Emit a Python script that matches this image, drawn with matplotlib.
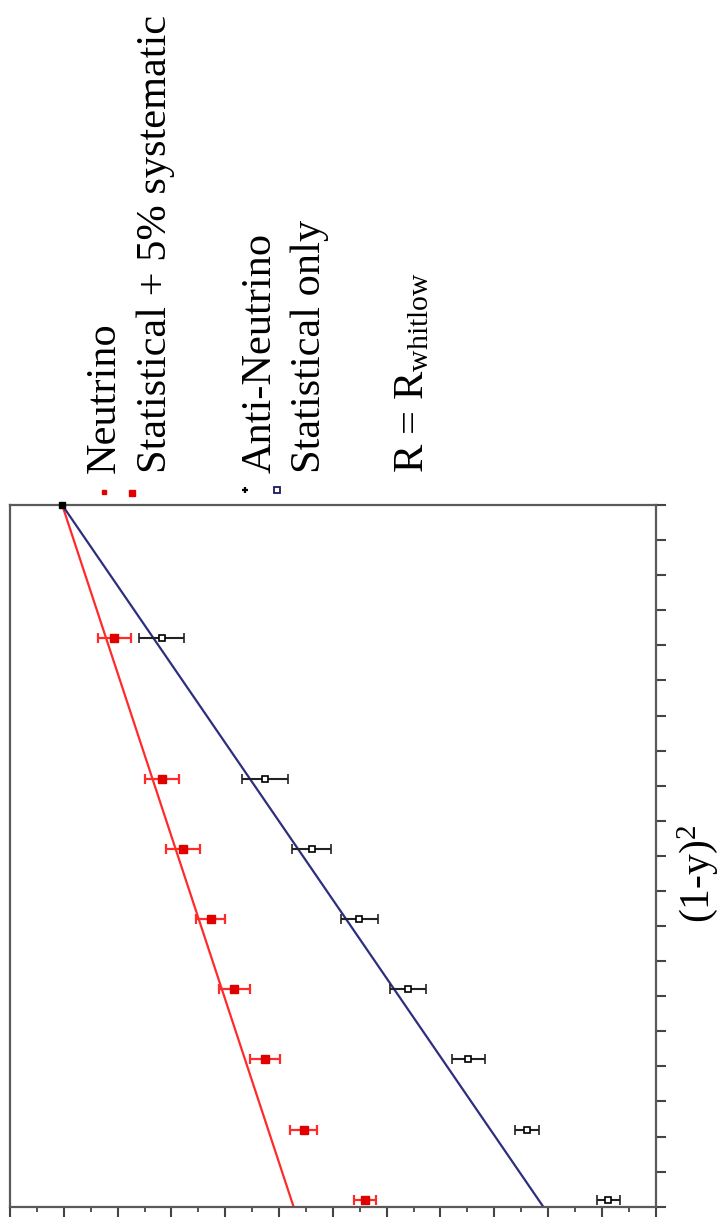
import matplotlib
matplotlib.use('Agg')
import matplotlib.pyplot as plt
from matplotlib.lines import Line2D
from matplotlib.ticker import MultipleLocator, NullFormatter
import numpy as np

plt.rcParams['font.family'] = ['Liberation Serif', 'DejaVu Serif']
plt.rcParams['mathtext.fontset'] = 'custom'
plt.rcParams['mathtext.rm'] = 'Liberation Serif'
plt.rcParams['mathtext.it'] = 'Liberation Serif:italic'

# ---- data (chart is drawn rotated 90 degrees, as in the reference) ----
one_minus_y_sq = [0.81, 0.61, 0.51, 0.41, 0.31, 0.21, 0.11, 0.01]
nu_values = [1.006, 0.918, 0.878, 0.827, 0.783, 0.726, 0.654, 0.540]
nu_errors = [0.030, 0.032, 0.032, 0.027, 0.029, 0.028, 0.025, 0.020]
nubar_values = [0.918, 0.726, 0.639, 0.551, 0.460, 0.348, 0.239, 0.088]
nubar_errors = [0.042, 0.043, 0.036, 0.034, 0.034, 0.030, 0.023, 0.021]
fit_x = [0.0, 1.0]
nu_fit = [0.673, 1.103]
nubar_fit = [0.209, 1.103]
end_point_x = [1.0]
end_point_value = [1.103]

legend_labels = ["Neutrino", "Statistical + 5% systematic",
                 "Anti-Neutrino", "Statistical only",
                 r"R = R$_{\mathrm{whitlow}}$"]
axis_label = r"(1-y)$^{2}$"

W, H = 722, 1228
fig = plt.figure(figsize=(W / 100, H / 100), dpi=100)

def fx(px):
    return px / W

def fy(py):
    return 1 - py / H

left, right, top, bottom = 10, 655.7, 505, 1206.7
ax = fig.add_axes([fx(left), fy(bottom), (right - left) / W, (bottom - top) / H])
ax.set_xlim(1.2, 0)
ax.set_ylim(0, 1)

red = '#ff2a2a'
navy = '#2e2e7e'

ax.plot(nu_fit, fit_x, color=red, lw=1.6, zorder=2)
ax.plot(nubar_fit, fit_x, color=navy, lw=1.6, zorder=2)

ax.errorbar(nu_values, one_minus_y_sq, xerr=nu_errors, fmt='s', color='#e00000',
            ms=6, mec='#e00000', mfc='#e00000', ecolor=red, elinewidth=1.6,
            capsize=3.5, capthick=1.6, zorder=3)
ax.errorbar(nubar_values, one_minus_y_sq, xerr=nubar_errors, fmt='s', color='black',
            ms=5, mec='black', mfc='white', mew=1.2, ecolor='#222222',
            elinewidth=1.5, capsize=3.5, capthick=1.5, zorder=3)
ax.plot(end_point_value, end_point_x, 's', color='black', ms=5, clip_on=False, zorder=4)

for s in ax.spines.values():
    s.set_color('#5a5a5a')
    s.set_linewidth(1.6)

ax.yaxis.tick_right()
ax.yaxis.set_major_locator(MultipleLocator(0.05))
ax.yaxis.set_major_formatter(NullFormatter())
ax.tick_params(axis='y', which='both', direction='out', length=7, width=1.5,
               color='#444444', left=False, right=True, labelright=False, labelleft=False)

ax.xaxis.set_major_locator(MultipleLocator(0.1))
ax.xaxis.set_minor_locator(MultipleLocator(0.05))
ax.xaxis.set_major_formatter(NullFormatter())
ax.tick_params(axis='x', which='major', direction='out', length=7, width=1.5,
               color='#444444', bottom=True, top=False, labelbottom=False)
ax.tick_params(axis='x', which='minor', direction='out', length=3.5, width=1.3,
               color='#444444', bottom=True, top=False)

# axis label (rotated)
fig.text(fx(709), fy(923), axis_label, rotation=90, rotation_mode='anchor',
         ha='left', va='baseline', fontsize=30)

# legend block (rotated)
fs = 30.5
text_pos = [(115, 473), (166, 473), (271, 473), (320, 473), (423, 473)]
for (px, py), lab in zip(text_pos, legend_labels):
    fig.text(fx(px), fy(py), lab, rotation=90, rotation_mode='anchor',
             ha='left', va='baseline', fontsize=fs)

legend_markers = [
    (104, 491.5, dict(marker='s', color='#e00000', ms=3.5)),
    (131.7, 493, dict(marker='s', color='#e00000', ms=4.5)),
    (245, 490, dict(marker='+', color='black', ms=5, mew=1.6)),
    (277.3, 490, dict(marker='s', mfc='white', mec='#1a1a5a', ms=4, mew=1.3)),
]
for px, py, kw in legend_markers:
    fig.add_artist(Line2D([fx(px)], [fy(py)], transform=fig.transFigure,
                          linestyle='none', **kw))

fig.savefig('out.png', dpi=100)
